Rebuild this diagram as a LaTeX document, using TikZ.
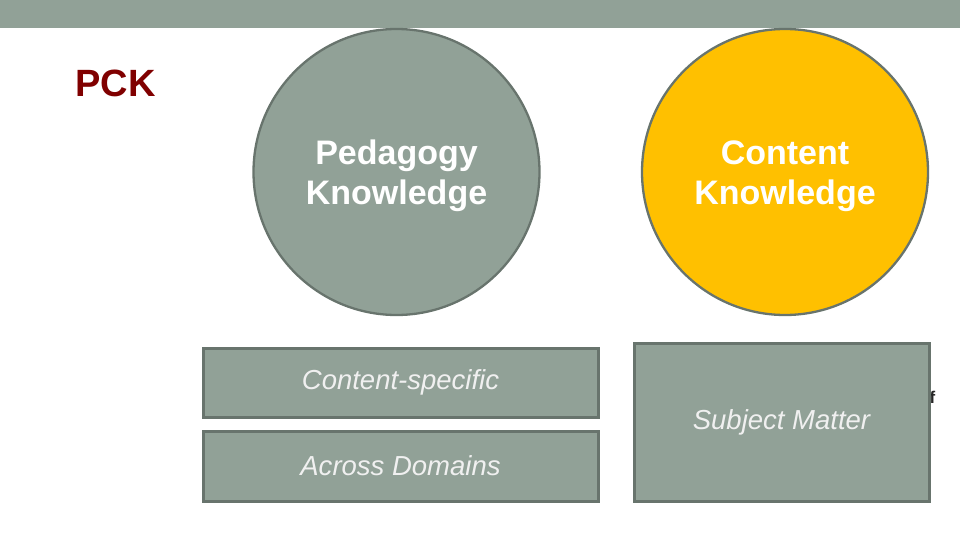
\documentclass[tikz,border=0pt]{standalone}
\usepackage{fontspec}
\setmainfont{Liberation Sans}
\usepackage{xcolor}
\usepackage{tikz}
\usetikzlibrary{positioning}

\definecolor{sage}{RGB}{145,161,151}
\definecolor{sageline}{RGB}{104,116,109}
\definecolor{gold}{RGB}{255,192,0}
\definecolor{pckred}{RGB}{128,0,0}

\begin{document}
\begin{tikzpicture}[
    x=1pt, y=-1pt,
    knowledge/.style={circle, draw=sageline, line width=2.3pt, minimum size=286pt, inner sep=0pt},
    caption/.style={align=center, text=white, font=\fontsize{34}{40}\selectfont\bfseries},
    facet/.style={rectangle, draw=sageline, line width=3pt, fill=sage, inner sep=0pt, text=white!94!black, font=\fontsize{27.5}{32}\selectfont\itshape}
]
\useasboundingbox (0,0) rectangle (960,540);

% top band
\fill[sage] (0,0) rectangle (960,28);

\node[anchor=base west, text=pckred, font=\fontsize{38}{44}\selectfont\bfseries] (pck) at (72,97) {PCK};

% the two knowledge circles
\node[knowledge, fill=sage] (pedagogy) at (396.5,172) {};
\node[knowledge, fill=gold] (content) at (785,172) {};
\node[caption] (pedagogy-text) at ([yshift=-4pt]pedagogy.center) {Pedagogy\\Knowledge};
\node[caption] (content-text) at ([yshift=-4pt]content.center) {Content\\Knowledge};

% partly hidden text behind the right box
\node[anchor=base west, inner sep=0pt, text=black!85, font=\fontsize{17}{20}\selectfont\bfseries] (tail) at (929.5,403) {f};

% boxes below
\node[facet, minimum width=395pt, minimum height=69pt] (specific) at (400.5,382.5) {Content-specific};
\node[facet, minimum width=395pt, minimum height=70pt] (domains) at (400.5,466) {Across Domains};
\node[facet, minimum width=295pt, minimum height=158pt] (subject) at (781.5,422) {Subject Matter};

\end{tikzpicture}
\end{document}
